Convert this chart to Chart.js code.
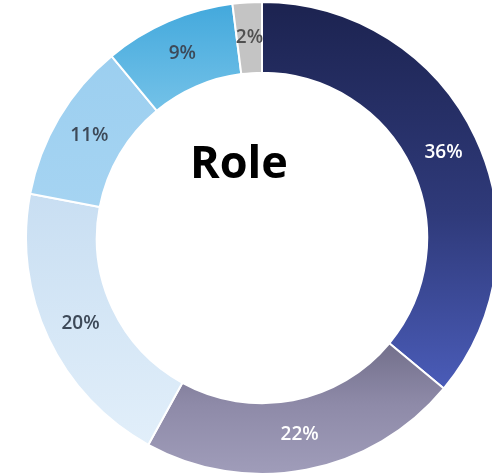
<!DOCTYPE html>
<html>
<head>
<meta charset="utf-8">
<script src="https://cdn.jsdelivr.net/npm/chart.js@4.4.0/dist/chart.umd.min.js"></script>
<style>
  html, body { margin: 0; padding: 0; background: #fff; overflow: hidden; }
  #wrap { position: relative; width: 492px; height: 473px; }
  #roleChart { position: absolute; left: 25px; top: 1px; }
</style>
</head>
<body>
<div id="wrap">
  <canvas id="roleChart" width="474" height="474"></canvas>
</div>
<script>
// data
const roles = ["A", "B", "C", "D", "E", "F"];
const shares = [36, 22, 20, 11, 9, 2];
const title = "Role";

// each slice is a vertical gradient: [stop, colour] pairs
const sliceGradients = [
  [[0, "#1c2350"], [0.45, "#2f3a7a"], [0.83, "#4b5dba"], [1, "#4b5dba"]],
  [[0, "#6a6780"], [0.7, "#6e6b86"], [0.85, "#8e8aa8"], [1, "#a09dba"]],
  [[0, "#c8def2"], [0.4, "#c8def2"], [0.95, "#e2effa"], [1, "#e4f0fa"]],
  [[0, "#98cdef"], [0.45, "#a6d4f2"], [1, "#a6d4f2"]],
  [[0, "#42a8dc"], [0.27, "#7cc6ea"], [1, "#7cc6ea"]],
  [[0, "#c4c4c4"], [1, "#c4c4c4"]]
];
const labelColors = ["#ffffff", "#ffffff", "#3d4958", "#3d4958", "#3d4958", "#505050"];

function sliceColor(context) {
  const chart = context.chart;
  const area = chart.chartArea;
  if (!area) return "#cccccc";
  const stops = sliceGradients[context.dataIndex];
  const g = chart.ctx.createLinearGradient(0, area.top, 0, area.bottom);
  stops.forEach(function (s) { g.addColorStop(s[0], s[1]); });
  return g;
}

const sliceLabels = {
  id: "sliceLabels",
  afterDatasetsDraw(chart) {
    const ctx = chart.ctx;
    const meta = chart.getDatasetMeta(0);
    ctx.save();
    ctx.textAlign = "center";
    ctx.textBaseline = "middle";
    meta.data.forEach(function (arc, i) {
      const p = arc.getCenterPoint();
      ctx.fillStyle = labelColors[i];
      ctx.font = "600 19px 'Open Sans'";
      ctx.fillText(shares[i] + "%", p.x, p.y);
    });
    // title in the hole, set a bit up and left of centre
    const c = meta.data[0];
    ctx.fillStyle = "#000";
    ctx.font = "bold 45px 'Open Sans'";
    ctx.textBaseline = "alphabetic";
    ctx.fillText(title, c.x - 23, c.y - 60);
    ctx.restore();
  }
};

new Chart(document.getElementById("roleChart"), {
  type: "doughnut",
  data: {
    labels: roles,
    datasets: [{
      data: shares,
      backgroundColor: sliceColor,
      borderColor: "#ffffff",
      borderWidth: 2,
      hoverOffset: 0
    }]
  },
  options: {
    responsive: false,
    animation: false,
    devicePixelRatio: 1,
    cutout: "70%",
    layout: { padding: 0 },
    plugins: {
      legend: { display: false },
      tooltip: { enabled: false }
    }
  },
  plugins: [sliceLabels]
});
</script>
</body>
</html>
